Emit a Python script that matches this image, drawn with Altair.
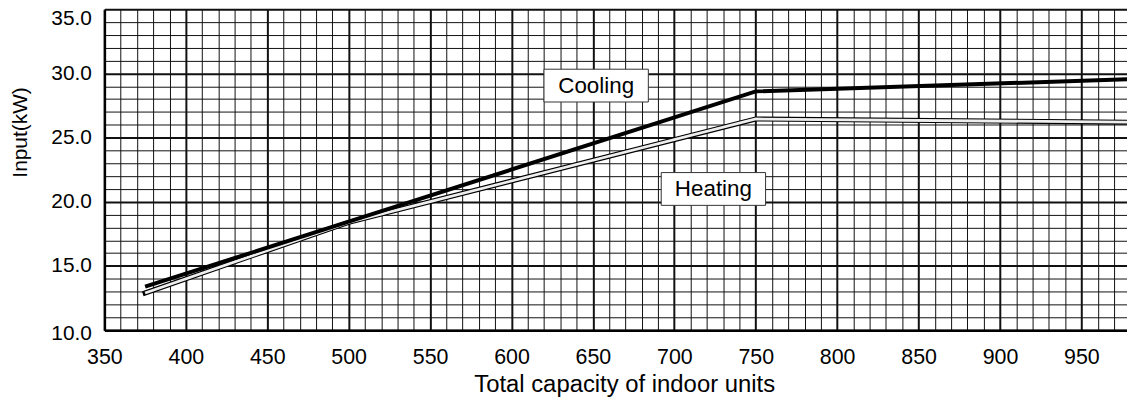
import altair as alt
import pandas as pd

# Data
X_COOL = [375, 500, 750, 980]
Y_COOL = [13.4, 18.45, 28.6, 29.55]
X_HEAT = [375, 500, 750, 980]
Y_HEAT = [12.9, 18.4, 26.45, 26.2]

LABELS = ["Cooling", "Heating"]
LABEL_X = [652, 724]
LABEL_Y = [29.05, 21.0]

X_GRID = list(range(350, 980, 10))
Y_GRID = list(range(10, 36, 1))

FONT = "Liberation Sans"

cool = pd.DataFrame({"x": X_COOL, "y": Y_COOL})
heat = pd.DataFrame({"x": X_HEAT, "y": Y_HEAT})
ann = pd.DataFrame({"label": LABELS, "x": LABEL_X, "y": LABEL_Y})

major_x = {"condition": {"test": "datum.value % 50 === 0", "value": 2}, "value": 1}
major_y = {"condition": {"test": "datum.value % 5 === 0", "value": 2}, "value": 1}
y_label_offset = {
    "condition": [
        {"test": "datum.value === 35", "value": 9},
        {"test": "datum.value === 10", "value": 3},
    ],
    "value": 0,
}

x_enc = alt.X(
    "x:Q",
    scale=alt.Scale(domain=[350, 978], nice=False, zero=False),
    axis=alt.Axis(
        values=X_GRID,
        labelExpr="datum.value % 50 === 0 ? datum.label : ''",
        grid=True,
        gridColor="#111111",
        gridWidth=major_x,
        ticks=False,
        domainColor="black",
        domainWidth=2.5,
        labelFontSize=21.5,
        labelPadding=17,
        labelFlush=False,
        labelOverlap=False,
        labelColor="black",
        title="Total capacity of indoor units",
        titleFontSize=24,
        titleFontWeight="normal",
        titleColor="black",
        titleBaseline="alphabetic",
        titleAlign="center",
        titleX=523,
        titleY=62,
    ),
)
y_enc = alt.Y(
    "y:Q",
    scale=alt.Scale(domain=[10, 35], nice=False, zero=False),
    axis=alt.Axis(
        values=Y_GRID,
        labelExpr="datum.value % 5 === 0 ? format(datum.value, '.1f') : ''",
        grid=True,
        gridColor="#111111",
        gridWidth=major_y,
        ticks=False,
        domainColor="black",
        domainWidth=2.5,
        labelFontSize=21,
        labelPadding=13,
        labelOverlap=False,
        labelColor="black",
        labelOffset=y_label_offset,
        title="Input(kW)",
        titleFontSize=21,
        titleFontWeight="normal",
        titleColor="black",
        titleBaseline="alphabetic",
        titleAlign="center",
        titleAngle=270,
        titleX=-78,
        titleY=123.5,
    ),
)

heat_outer = alt.Chart(heat).mark_line(
    color="black", strokeWidth=5, strokeCap="square", strokeJoin="miter", clip=True
).encode(x=x_enc, y=y_enc)
heat_inner = alt.Chart(heat).mark_line(
    color="#eeeeee", strokeWidth=2.8, strokeCap="butt", strokeJoin="miter", clip=True
).encode(x=x_enc, y=y_enc)
cool_line = alt.Chart(cool).mark_line(
    color="black", strokeWidth=4, strokeJoin="miter", clip=True
).encode(x=x_enc, y=y_enc)

boxes = alt.Chart(ann).mark_rect(
    width=105, height=33, fill="white", stroke="#333333", strokeWidth=1
).encode(x=x_enc, y=y_enc)
texts = alt.Chart(ann).mark_text(
    fontSize=22.5, font=FONT, color="black", align="center", baseline="middle"
).encode(x=x_enc, y=y_enc, text="label:N")

chart = (
    alt.layer(heat_outer, heat_inner, cool_line, boxes, texts)
    .properties(
        width=1029,
        height=323,
        autosize=alt.AutoSizeParams(type="none"),
        padding={"left": 97, "top": 0, "right": 0, "bottom": 66},
    )
    .configure_view(stroke=None)
    .configure(font=FONT, background="white")
)

chart.save("out.html", embed_options={"renderer": "svg", "actions": False})
